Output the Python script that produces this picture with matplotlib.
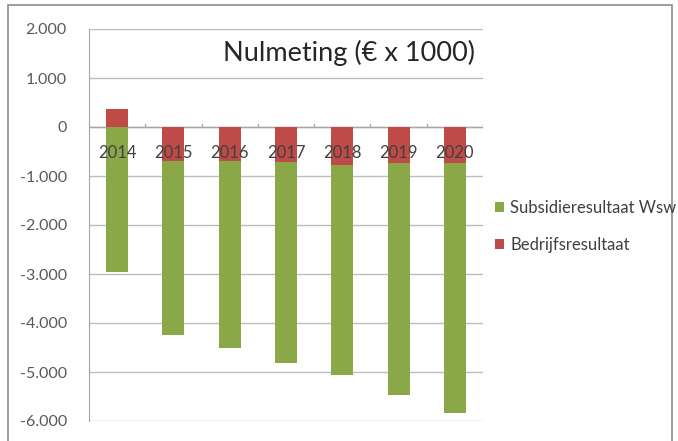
import numpy as np
import matplotlib
matplotlib.use("Agg")
import matplotlib.pyplot as plt
from matplotlib.patches import Rectangle
from matplotlib.ticker import FuncFormatter

years = ["2014", "2015", "2016", "2017", "2018", "2019", "2020"]
bedrijfsresultaat = [360, -700, -700, -710, -770, -740, -730]
subsidieresultaat = [-2950, -3540, -3800, -4110, -4290, -4730, -5100]
yticks = [2000, 1000, 0, -1000, -2000, -3000, -4000, -5000, -6000]

green = "#8AA847"
red = "#BF4B49"
text_gray = "#595959"

plt.rcParams["font.family"] = ["Lato", "DejaVu Sans"]

fig = plt.figure(figsize=(6.78, 4.41), dpi=100)
fig.patch.set_facecolor("white")

# outer chart frame
fig.patches.append(Rectangle((8 / 678, -0.05), (672 - 8) / 678, 1 - 5 / 441 + 0.05,
                             transform=fig.transFigure, fill=False,
                             edgecolor="#8C8C8C", linewidth=1.2))

ax = fig.add_axes([89 / 678, 1 - 421 / 441, (483 - 89) / 678, (421 - 29) / 441])

x = np.arange(len(years))
bed = np.array(bedrijfsresultaat)
sub = np.array(subsidieresultaat)
# negative values stack below the other negative series
sub_bottom = np.where((bed < 0) & (sub < 0), bed, 0)

w = 0.39
ax.bar(x, sub, w, bottom=sub_bottom, color=green, label="Subsidieresultaat Wsw", zorder=3)
ax.bar(x, bed, w, color=red, label="Bedrijfsresultaat", zorder=3)

ax.set_xlim(-0.5, len(years) - 0.5)
ax.set_ylim(-6000, 2000)
ax.set_yticks(yticks)
ax.yaxis.set_major_formatter(FuncFormatter(lambda v, p: f"{int(v):,}".replace(",", ".")))
ax.grid(axis="y", color="#BDBDBD", linewidth=1.0, zorder=0)
ax.tick_params(axis="y", length=0, labelsize=11.5, labelcolor=text_gray, pad=16)

for s in ["top", "right", "bottom"]:
    ax.spines[s].set_visible(False)
ax.spines["left"].set_color("#A6A6A6")

# category axis drawn along zero
ax.axhline(0, color="#A6A6A6", linewidth=1.0, zorder=2)
ax.set_xticks([])
for b in np.arange(-0.5, len(years), 1.0):
    ax.plot([b, b], [0, 70], color="#A6A6A6", linewidth=0.9, zorder=2)
for xi, lab in zip(x, years):
    ax.text(xi, -530, lab, ha="center", va="center", fontsize=12,
            color="#404040", zorder=4)

ax.text(0.98, 0.94, "Nulmeting (€ x 1000)", transform=ax.transAxes,
        ha="right", va="center", fontsize=19.5, color="#262626")

handles, labels = ax.get_legend_handles_labels()
leg = fig.legend(handles, labels, loc="upper left",
                 bbox_to_anchor=(480 / 678, 1 - 185 / 441), frameon=False,
                 fontsize=12, handlelength=0.55, handleheight=0.55,
                 handletextpad=0.35, labelspacing=1.25, labelcolor="#404040")

fig.savefig("out.png", dpi=100, facecolor="white")
